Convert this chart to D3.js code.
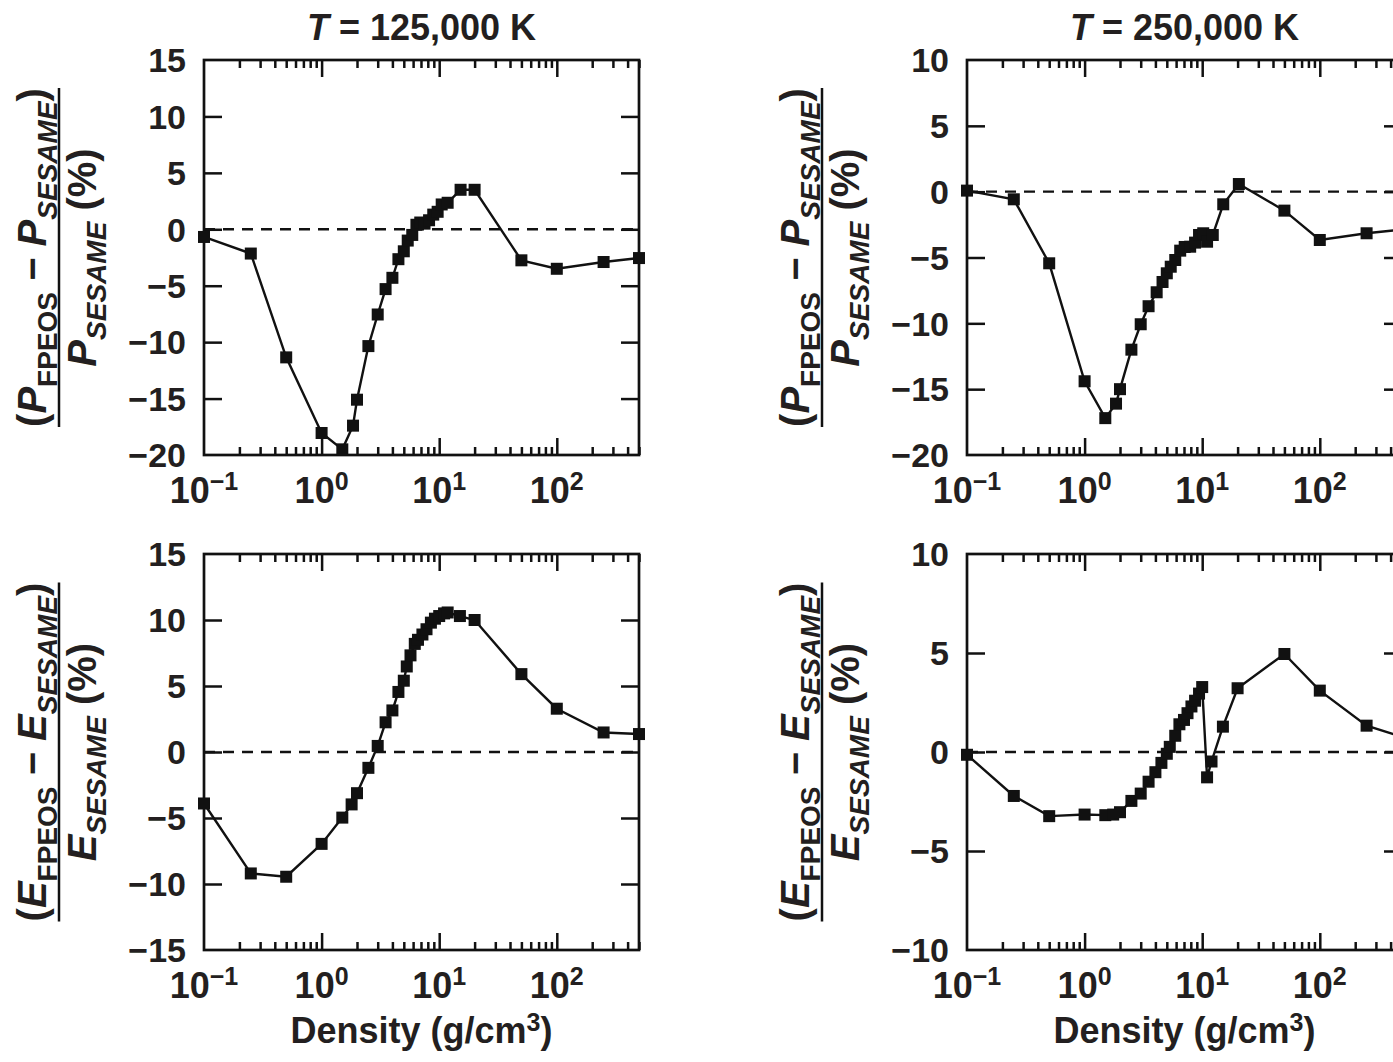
<!DOCTYPE html>
<html>
<head>
<meta charset="utf-8">
<script src="https://cdn.jsdelivr.net/npm/d3@7"></script>
<style>
  html, body { margin: 0; padding: 0; background: #fff; }
  svg { display: block; }
  text { font-family: "Liberation Sans", Arial, Helvetica, sans-serif; font-weight: bold; fill: #231f20; }
</style>
</head>
<body>
<svg id="chart" width="1393" height="1062"></svg>
<script>
// Relative deviation of FPEOS from SESAME, in percent, versus density (g/cm^3)

// Pressure, T = 125,000 K
const densP125 = [0.1, 0.25, 0.5, 1.0, 1.5, 1.85, 2.0, 2.5, 3.0, 3.5, 4.0, 4.5, 5.0, 5.4, 5.9, 6.4, 6.9, 7.5, 8.2, 8.9, 9.7, 10.5, 11.8, 15.2, 20, 50, 100, 250, 500];
const pressDiff125 = [-0.68, -2.15, -11.35, -18.05, -19.5, -17.4, -15.1, -10.35, -7.55, -5.3, -4.3, -2.65, -1.95, -1.0, -0.5, 0.4, 0.6, 0.5, 0.8, 1.3, 1.55, 2.2, 2.35, 3.5, 3.5, -2.75, -3.5, -2.9, -2.55];

// Pressure, T = 250,000 K
const densP250 = [0.1, 0.25, 0.5, 1.0, 1.5, 1.85, 2.0, 2.5, 3.0, 3.5, 4.1, 4.6, 5.0, 5.4, 5.9, 6.5, 7.1, 7.9, 8.7, 9.4, 10.2, 11.0, 12.3, 15.1, 20.5, 50, 100, 250, 500];
const pressDiff250 = [0.08, -0.58, -5.44, -14.4, -17.2, -16.1, -15.0, -12.0, -10.07, -8.7, -7.64, -6.86, -6.2, -5.7, -5.19, -4.48, -4.2, -4.18, -3.87, -3.29, -3.16, -3.8, -3.29, -0.96, 0.58, -1.44, -3.67, -3.16, -2.87];

// Internal energy, T = 125,000 K
const densE125 = [0.1, 0.25, 0.5, 1.0, 1.5, 1.8, 2.0, 2.5, 3.0, 3.5, 4.0, 4.5, 5.0, 5.3, 5.7, 6.2, 6.6, 7.2, 7.8, 8.5, 9.2, 10, 11, 11.8, 15, 20, 50, 100, 250, 500];
const energyDiff125 = [-3.9, -9.2, -9.45, -6.96, -4.97, -3.97, -3.12, -1.2, 0.46, 2.25, 3.15, 4.55, 5.4, 6.48, 7.32, 8.19, 8.5, 8.9, 9.3, 9.8, 10.1, 10.3, 10.5, 10.57, 10.3, 10.0, 5.9, 3.28, 1.48, 1.36];

// Internal energy, T = 250,000 K
const densE250 = [0.1, 0.25, 0.5, 1.0, 1.5, 1.75, 2.0, 2.5, 3.0, 3.5, 4.0, 4.5, 5.0, 5.3, 5.9, 6.4, 7.0, 7.5, 8.1, 8.7, 9.4, 10, 11, 12, 15, 20, 50, 100, 250, 500];
const energyDiff250 = [-0.14, -2.22, -3.24, -3.16, -3.19, -3.16, -3.04, -2.47, -2.1, -1.5, -1.02, -0.55, -0.09, 0.26, 0.82, 1.4, 1.62, 1.96, 2.3, 2.59, 2.95, 3.28, -1.28, -0.48, 1.28, 3.22, 4.95, 3.1, 1.33, 0.77];

// Axis settings
const densityDomain = [0.1, 500];
const temperatures = ["125,000", "250,000"];
const yTicksP125 = [-20, -15, -10, -5, 0, 5, 10, 15];
const yTicksP250 = [-20, -15, -10, -5, 0, 5, 10];
const yTicksE125 = [-15, -10, -5, 0, 5, 10, 15];
const yTicksE250 = [-10, -5, 0, 5, 10];
const decadeLabels = [{v: 0.1, e: "\u22121"}, {v: 1, e: "0"}, {v: 10, e: "1"}, {v: 100, e: "2"}];

const svg = d3.select("#chart");
svg.append("rect").attr("width", 1393).attr("height", 1062).attr("fill", "#fff");

const PW = 435;
const panels = [
  {x0: 204, y0: 60,  h: 395, dens: densP125, vals: pressDiff125, ticks: yTicksP125, q: "P", title: temperatures[0]},
  {x0: 967, y0: 60,  h: 395, dens: densP250, vals: pressDiff250, ticks: yTicksP250, q: "P", title: temperatures[1]},
  {x0: 204, y0: 554, h: 396, dens: densE125, vals: energyDiff125, ticks: yTicksE125, q: "E", xlabel: true},
  {x0: 967, y0: 554, h: 396, dens: densE250, vals: energyDiff250, ticks: yTicksE250, q: "E", xlabel: true}
];

const INK = "#111";

function fmtNum(v) { return v < 0 ? "\u2212" + Math.abs(v) : String(v); }

panels.forEach(p => {
  const x = d3.scaleLog().domain(densityDomain).range([p.x0, p.x0 + PW]);
  const y = d3.scaleLinear().domain([p.ticks[0], p.ticks[p.ticks.length - 1]]).range([p.y0 + p.h, p.y0]);
  const g = svg.append("g");

  const allX = x.ticks();
  const isMajor = v => Math.abs(Math.log10(v) - Math.round(Math.log10(v))) < 1e-9;
  const majorX = allX.filter(v => isMajor(v) && v > densityDomain[0]);
  const minorX = allX.filter(v => !isMajor(v));

  const styleAxis = sel => {
    sel.select(".domain").remove();
    sel.selectAll(".tick line").attr("stroke", INK).attr("stroke-width", 2.5);
    sel.selectAll(".tick text").remove();
  };

  // log ticks, bottom and top, pointing inward
  g.append("g").attr("transform", `translate(0,${p.y0 + p.h})`)
    .call(d3.axisBottom(x).tickValues(minorX).tickSize(-8).tickFormat("")).call(styleAxis);
  g.append("g").attr("transform", `translate(0,${p.y0 + p.h})`)
    .call(d3.axisBottom(x).tickValues(majorX).tickSize(-17).tickFormat("")).call(styleAxis);
  g.append("g").attr("transform", `translate(0,${p.y0})`)
    .call(d3.axisTop(x).tickValues(minorX).tickSize(-8).tickFormat("")).call(styleAxis);
  g.append("g").attr("transform", `translate(0,${p.y0})`)
    .call(d3.axisTop(x).tickValues(majorX).tickSize(-17).tickFormat("")).call(styleAxis);

  // y ticks, left and right
  const innerY = p.ticks.slice(1, -1);
  g.append("g").attr("transform", `translate(${p.x0},0)`)
    .call(d3.axisLeft(y).tickValues(innerY).tickSize(-18).tickFormat("")).call(styleAxis);
  g.append("g").attr("transform", `translate(${p.x0 + PW},0)`)
    .call(d3.axisRight(y).tickValues(innerY).tickSize(-18).tickFormat("")).call(styleAxis);

  // zero reference
  g.append("line")
    .attr("x1", x(densityDomain[0])).attr("x2", x(densityDomain[1]))
    .attr("y1", y(0)).attr("y2", y(0))
    .attr("stroke", INK).attr("stroke-width", 2.4).attr("stroke-dasharray", "11,8");

  // frame
  g.append("rect").attr("x", p.x0).attr("y", p.y0).attr("width", PW).attr("height", p.h)
    .attr("fill", "none").attr("stroke", INK).attr("stroke-width", 2.7);

  // y tick labels
  g.selectAll(".ylab").data(p.ticks).join("text")
    .attr("x", p.x0 - 18).attr("y", d => y(d)).attr("dy", "0.36em")
    .attr("text-anchor", "end").attr("font-size", 34)
    .text(d => fmtNum(d));

  // x tick labels with superscript exponents
  decadeLabels.forEach(d => {
    const t = g.append("text").attr("x", x(d.v)).attr("y", p.y0 + p.h + 48)
      .attr("text-anchor", "middle").attr("font-size", 36);
    t.append("tspan").text("10");
    t.append("tspan").attr("font-size", 25).attr("dy", -13).text(d.e);
  });

  // data
  const pts = p.dens.map((d, i) => [d, p.vals[i]]);
  const clipId = "clip" + p.x0 + "_" + p.y0;
  svg.append("clipPath").attr("id", clipId).append("rect")
    .attr("x", p.x0 - 8).attr("y", p.y0 - 8).attr("width", PW + 16).attr("height", p.h + 16);
  const dg = g.append("g").attr("clip-path", `url(#${clipId})`);
  dg.append("path").datum(pts)
    .attr("d", d3.line().x(d => x(d[0])).y(d => y(d[1])))
    .attr("fill", "none").attr("stroke", INK).attr("stroke-width", 2.4);
  const S = 12;
  dg.selectAll("rect.pt").data(pts).join("rect")
    .attr("x", d => x(d[0]) - S / 2).attr("y", d => y(d[1]) - S / 2)
    .attr("width", S).attr("height", S).attr("fill", INK);

  // title
  if (p.title) {
    const t = g.append("text").attr("x", p.x0 + PW / 2).attr("y", 40)
      .attr("text-anchor", "middle").attr("font-size", 36);
    t.append("tspan").attr("font-style", "italic").text("T");
    t.append("tspan").text(" = " + p.title + " K");
  }

  // x axis title
  if (p.xlabel) {
    const t = g.append("text").attr("x", p.x0 + PW / 2).attr("y", 1043)
      .attr("text-anchor", "middle").attr("font-size", 36);
    t.append("tspan").text("Density (g/cm");
    t.append("tspan").attr("font-size", 25).attr("dy", -12).text("3");
    t.append("tspan").attr("dy", 12).text(")");
  }

  // y axis title as a stacked fraction
  const cy = p.y0 + p.h / 2;
  const dx = p.x0 - 204;
  const M = 40, SUB = 28;
  const lab = g.append("g");
  const l1 = lab.append("text")
    .attr("transform", `translate(${46 + dx},${cy}) rotate(-90)`)
    .attr("text-anchor", "middle").attr("font-size", M);
  l1.append("tspan").text("(");
  l1.append("tspan").attr("font-style", "italic").text(p.q);
  l1.append("tspan").attr("font-size", SUB).attr("dy", 11).text("FPEOS");
  l1.append("tspan").attr("dy", -11).text(" \u2212 ");
  l1.append("tspan").attr("font-style", "italic").text(p.q);
  l1.append("tspan").attr("font-style", "italic").attr("font-size", SUB).attr("dy", 11).text("SESAME");
  l1.append("tspan").attr("dy", -11).text(")");

  const len1 = l1.node().getComputedTextLength();
  lab.append("line").attr("x1", 59 + dx).attr("x2", 59 + dx)
    .attr("y1", cy - len1 / 2).attr("y2", cy + len1 / 2)
    .attr("stroke", INK).attr("stroke-width", 2.5);

  const l2 = lab.append("text")
    .attr("transform", `translate(${96 + dx},${cy}) rotate(-90)`)
    .attr("text-anchor", "middle").attr("font-size", M);
  l2.append("tspan").attr("font-style", "italic").text(p.q);
  l2.append("tspan").attr("font-style", "italic").attr("font-size", SUB).attr("dy", 10).text("SESAME");
  l2.append("tspan").attr("dy", -10).text(" (%)");
});
</script>
</body>
</html>
